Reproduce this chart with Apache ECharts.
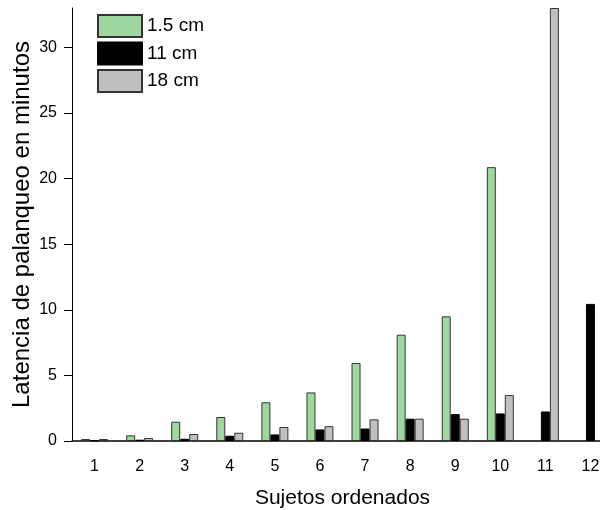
<!DOCTYPE html>
<html>
<head>
<meta charset="utf-8">
<script src="https://cdn.jsdelivr.net/npm/echarts@6/dist/echarts.min.js"></script>
<style>
  html, body { margin: 0; padding: 0; background: #fff; overflow: hidden; }
  /* the x axis runs past the right edge of the picture, so the chart is a bit wider than the window */
  #chart { width: 613px; height: 510px; }
</style>
</head>
<body>
<div id="chart"></div>
<script>
// sujetos ordenados
var sujetos = ['1', '2', '3', '4', '5', '6', '7', '8', '9', '10', '11', '12'];
// latencia en minutos por distancia
var cm15 = [0.15, 0.43, 1.47, 1.83, 2.95, 3.7, 5.95, 8.1, 9.5, 20.87, null, null];
var cm11 = [0.05, 0.1, 0.17, 0.4, 0.5, 0.88, 0.95, 1.7, 2.05, 2.1, 2.25, 10.45];
var cm18 = [0.15, 0.23, 0.53, 0.63, 1.07, 1.13, 1.65, 1.7, 1.7, 3.5, 33, null];
var yTicks = [0, 5, 10, 15, 20, 25, 30];

var font = 'Liberation Sans, Arial, sans-serif';
var chart = echarts.init(document.getElementById('chart'));

function serie(name, data, color, border) {
    return {
        name: name,
        type: 'bar',
        data: data,
        barWidth: 9,
        barGap: '0%',
        itemStyle: { color: color, borderColor: border, borderWidth: 1 }
    };
}

chart.setOption({
    animation: false,
    textStyle: { fontFamily: font },
    grid: { left: 72, right: 0, top: 8, bottom: 69, outerBoundsMode: 'none' },
    legend: {
        orient: 'vertical',
        left: 97,
        top: 14,
        padding: 0,
        itemWidth: 44,
        itemHeight: 22,
        itemGap: 3.5,
        icon: 'rect',
        textStyle: { fontFamily: font, fontSize: 19, color: '#000' },
        data: ['1.5 cm', '11 cm', '18 cm']
    },
    xAxis: {
        type: 'category',
        data: sujetos,
        name: 'Sujetos ordenados',
        nameLocation: 'middle',
        nameGap: 47,
        nameMoveOverlap: false,
        nameTextStyle: { fontSize: 21, color: '#000', fontFamily: font },
        axisLine: { lineStyle: { color: '#000', width: 1.5 } },
        axisTick: { alignWithLabel: true, length: 8, lineStyle: { color: '#000' } },
        axisLabel: { fontSize: 16, color: '#000', margin: 18, fontFamily: font }
    },
    yAxis: {
        type: 'value',
        min: 0,
        max: 33,
        interval: 5,
        name: 'Latencia de palanqueo en minutos',
        nameLocation: 'middle',
        nameGap: 38,
        nameMoveOverlap: false,
        nameTextStyle: { fontSize: 24, color: '#000', fontFamily: font },
        splitLine: { show: false },
        axisLine: { show: true, lineStyle: { color: '#000', width: 1 } },
        axisTick: { show: true, length: 8, customValues: yTicks, lineStyle: { color: '#000' } },
        axisLabel: { fontSize: 16, color: '#000', margin: 15, customValues: yTicks, fontFamily: font }
    },
    series: [
        serie('1.5 cm', cm15, '#9fd89f', '#333'),
        serie('11 cm', cm11, '#000', '#000'),
        serie('18 cm', cm18, '#c0c0c0', '#333')
    ]
});
</script>
</body>
</html>
